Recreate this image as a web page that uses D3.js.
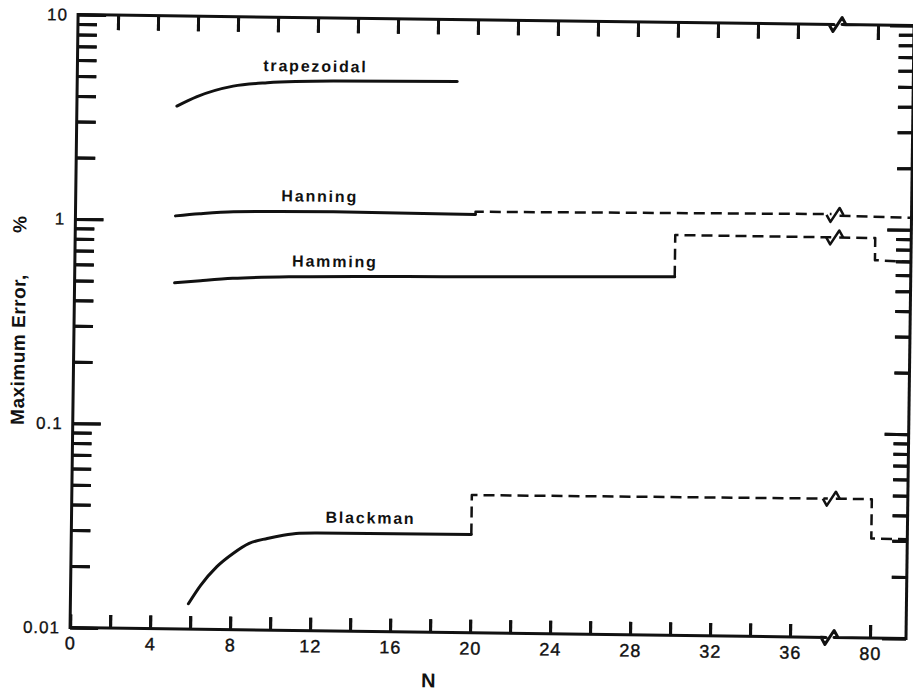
<!DOCTYPE html>
<html>
<head>
<meta charset="utf-8">
<title>Maximum Error vs N</title>
<script src="https://cdn.jsdelivr.net/npm/d3@7"></script>
<style>
    html, body {
        margin: 0;
        padding: 0;
        background: #fff;
    }
    svg { display: block; }
</style>
</head>
<body>
<svg id="chart" width="913" height="690"></svg>
<script>
// ---- values ----
var xTickVals   = [0, 2, 4, 6, 8, 10, 12, 14, 16, 18, 20, 22, 24, 26, 28, 30, 32, 34, 36, 80];
var xLabelVals  = [0, 4, 8, 12, 16, 20, 24, 28, 32, 36, 80];
var yMajor      = [0.01, 0.1, 1, 10];
var yLabels     = ['0.01', '0.1', '1', '10'];

// trapezoidal (solid)
var trapN = [5, 6, 7.8, 9.5, 12.8, 19];
var trapV = [3.62, 4.04, 4.57, 4.77, 4.91, 4.97];

// Hanning
var hanN     = [5, 6.2, 7.9, 12.9, 20];
var hanV     = [1.05, 1.08, 1.11, 1.125, 1.115];
var hanDashN = [20, 20, 37.8];
var hanDashV = [1.115, 1.15, 1.18];
var hanTailN = [78.2, 81.8];
var hanTailV = [1.16, 1.145];

// Hamming
var hamN     = [5, 6.3, 7.9, 11.2, 19.2, 30];
var hamV     = [0.494, 0.508, 0.524, 0.539, 0.552, 0.569];
var hamDashN = [30, 30, 37.8];
var hamDashV = [0.569, 0.911, 0.908];
var hamTailN = [78.2, 80, 80, 81.8];
var hamTailV = [0.907, 0.907, 0.707, 0.696];

// Blackman
var blkN     = [5.9, 6.5, 7.3, 8.1, 8.9, 9.8, 10.6, 11.4, 12.3, 20];
var blkV     = [0.0133, 0.0164, 0.0203, 0.0236, 0.0265, 0.0281, 0.0292, 0.0299, 0.0301, 0.0303];
var blkDashN = [20, 20, 37.8];
var blkDashV = [0.0303, 0.0472, 0.0478];
var blkTailN = [78.2, 80, 80, 81.8];
var blkTailV = [0.0478, 0.0478, 0.0307, 0.0306];

var INK = '#111';
var FONT = "'Liberation Sans', Arial, sans-serif";

// ---- scales (broken x axis: 0..38, then 78..82) ----
var xs = d3.scaleLinear().domain([0, 37.8, 78.2, 81.8]).range([74, 830, 838, 910]);
var ys = d3.scaleLog().domain([0.01, 10]).range([633, 20]);
var yTop = ys(10), yBottom = ys(0.01), xLeft = xs(0), xRight = xs(81.8);
var breakX = (xs(37.8) + xs(78.2)) / 2;

var svg = d3.select('#chart');
svg.append('rect').attr('width', 913).attr('height', 690).attr('fill', '#fff');

// the scan is slightly tilted
var TILT = 'rotate(0.75, 490, 330)';
var plot = svg.append('g').attr('transform', TILT);

function zip(ns, vs) { return ns.map(function(n, i) { return [n, vs[i]]; }); }

function breakMark(cx, cy) {
    return 'M' + (cx - 9) + ',' + cy + 'L' + (cx - 5) + ',' + (cy + 7) +
           'L' + (cx + 4) + ',' + (cy - 7) + 'L' + (cx + 8) + ',' + cy;
}

function ink(sel, w) {
    return sel.attr('fill', 'none').attr('stroke', INK).attr('stroke-width', w)
        .attr('stroke-linejoin', 'round');
}

// frame with breaks on top and bottom
ink(plot.append('path'), 3).attr('stroke-linecap', 'square')
    .attr('d', 'M' + xLeft + ',' + yTop + 'V' + yBottom);
ink(plot.append('path'), 3).attr('stroke-linecap', 'square')
    .attr('d', 'M' + xRight + ',' + yTop + 'V' + yBottom);
[yTop, yBottom].forEach(function(yy) {
    ink(plot.append('path'), 3)
        .attr('d', 'M' + xLeft + ',' + yy + 'H' + xs(37.8) + breakMark(breakX, yy).replace('M', 'L') +
                   'L' + xs(78.2) + ',' + yy + 'H' + xRight);
});

// ---- curves ----
var smooth = d3.line().x(function(d) { return xs(d[0]); }).y(function(d) { return ys(d[1]); })
    .curve(d3.curveMonotoneX);
var straight = d3.line().x(function(d) { return xs(d[0]); }).y(function(d) { return ys(d[1]); });

function drawSolid(ns, vs) {
    ink(plot.append('path'), 3).attr('stroke-linecap', 'round').attr('d', smooth(zip(ns, vs)));
}
function drawDashed(ns, vs) {
    ink(plot.append('path'), 2.5).attr('stroke-dasharray', '11,6').attr('d', straight(zip(ns, vs)));
}
function drawBreak(leftV, rightV) {
    var yy = (ys(leftV) + ys(rightV)) / 2;
    ink(plot.append('path'), 2.5).attr('d', breakMark(breakX, yy));
}

drawSolid(trapN, trapV);

drawSolid(hanN, hanV);
drawDashed(hanDashN, hanDashV);
drawDashed(hanTailN, hanTailV);
drawBreak(hanDashV[hanDashV.length - 1], hanTailV[0]);

drawSolid(hamN, hamV);
drawDashed(hamDashN, hamDashV);
drawDashed(hamTailN, hamTailV);
drawBreak(hamDashV[hamDashV.length - 1], hamTailV[0]);

drawSolid(blkN, blkV);
drawDashed(blkDashN, blkDashV);
drawDashed(blkTailN, blkTailV);
drawBreak(blkDashV[blkDashV.length - 1], blkTailV[0]);

// ---- labels ----
var curveLabels = [
    { name: 'trapezoidal', n: 11.9, base: 74 },
    { name: 'Hanning',     n: 12.2, base: 204 },
    { name: 'Hamming',     n: 13.0, base: 269 },
    { name: 'Blackman',    n: 14.95, base: 525 }
];
plot.selectAll('.clabel').data(curveLabels).enter().append('text')
    .attr('class', 'clabel')
    .attr('x', function(d) { return xs(d.n); })
    .attr('y', function(d) { return d.base; })
    .attr('text-anchor', 'middle')
    .attr('font-family', FONT).attr('fill', INK)
    .attr('font-size', 16)
    .attr('font-weight', 'bold')
    .attr('letter-spacing', 1.8)
    .text(function(d) { return d.name; });

plot.append('text')
    .attr('transform', 'translate(25,431) rotate(-90)')
    .attr('font-family', FONT).attr('fill', INK)
    .attr('font-size', 19).attr('font-weight', 'bold').attr('letter-spacing', 0.5)
    .text('Maximum Error,');
plot.append('text')
    .attr('transform', 'translate(25,239) rotate(-90)')
    .attr('font-family', FONT).attr('fill', INK)
    .attr('font-size', 19).attr('font-weight', 'bold')
    .text('%');

plot.append('text')
    .attr('x', 433).attr('y', 681)
    .attr('text-anchor', 'middle').attr('dominant-baseline', 'central')
    .attr('font-family', FONT).attr('fill', INK)
    .attr('font-size', 20).attr('font-weight', 'bold')
    .text('N');

// ---- axes (ticks on all four sides) ----
var minor = ys.ticks().filter(function(d) { return yMajor.indexOf(d) < 0; });

// each tick line is doubled by a path of the same length so it always paints
function styleAxis(sel) {
    sel.select('.domain').remove();
    sel.selectAll('.tick').each(function() {
        var t = d3.select(this), ln = t.select('line');
        var x2 = +ln.attr('x2') || 0, y2 = +ln.attr('y2') || 0;
        ln.attr('stroke', INK).attr('stroke-width', 3);
        t.append('path').attr('d', 'M0,0L' + x2 + ',' + y2)
            .attr('fill', 'none').attr('stroke', INK).attr('stroke-width', 3);
    });
}

var axisLayer = svg.append('g').attr('transform', TILT);

axisLayer.append('g').attr('transform', 'translate(0,' + yBottom + ')')
    .call(d3.axisBottom(xs).tickValues(xTickVals).tickSize(-13).tickPadding(9)
        .tickFormat(function(d) { return xLabelVals.indexOf(d) >= 0 ? String(d) : ''; }))
    .call(styleAxis)
    .call(function(a) {
        a.selectAll('text').attr('font-size', 18).attr('letter-spacing', 1)
            .attr('fill', INK).attr('stroke', INK).attr('stroke-width', 0.4)
            .attr('font-family', FONT);
    });

axisLayer.append('g').attr('transform', 'translate(0,' + yTop + ')')
    .call(d3.axisTop(xs).tickValues(xTickVals.slice(1)).tickSize(-15).tickFormat(''))
    .call(styleAxis);

axisLayer.append('g').attr('transform', 'translate(' + xLeft + ',0)')
    .call(d3.axisLeft(ys).tickValues(minor).tickSize(-19).tickFormat(''))
    .call(styleAxis);

axisLayer.append('g').attr('transform', 'translate(' + xLeft + ',0)')
    .call(d3.axisLeft(ys).tickValues(yMajor).tickSize(-28).tickPadding(10)
        .tickFormat(function(d, i) { return yLabels[i]; }))
    .call(styleAxis)
    .call(function(a) {
        a.selectAll('text').attr('font-size', 17).attr('letter-spacing', 1)
            .attr('fill', INK).attr('stroke', INK).attr('stroke-width', 0.3)
            .attr('font-family', FONT);
    });

axisLayer.append('g').attr('transform', 'translate(' + xRight + ',0)')
    .call(d3.axisRight(ys).tickValues(minor).tickSize(-15).tickFormat(''))
    .call(styleAxis);

axisLayer.append('g').attr('transform', 'translate(' + xRight + ',0)')
    .call(d3.axisRight(ys).tickValues(yMajor).tickSize(-24).tickFormat(''))
    .call(styleAxis);
</script>
</body>
</html>
